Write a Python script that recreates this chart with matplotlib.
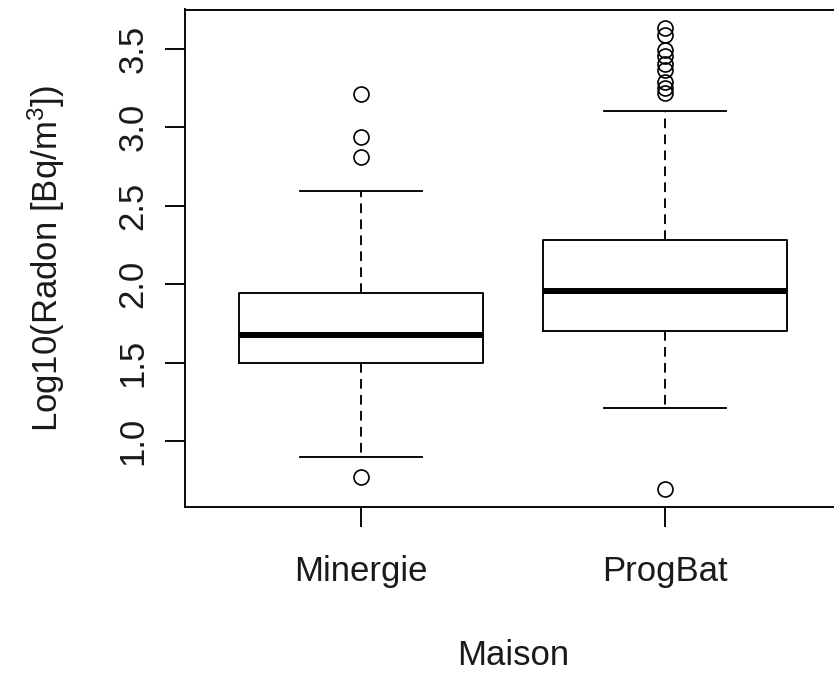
import matplotlib
matplotlib.use("Agg")
import matplotlib.pyplot as plt

plt.rcParams['font.family'] = ['Liberation Sans', 'DejaVu Sans']
plt.rcParams['mathtext.fontset'] = 'custom'
plt.rcParams['mathtext.rm'] = 'Liberation Sans'
plt.rcParams['mathtext.it'] = 'Liberation Sans'
plt.rcParams['lines.scale_dashes'] = False

categories = ['Minergie', 'ProgBat']
q1 = [1.496, 1.703]
medians = [1.678, 1.958]
q3 = [1.944, 2.280]
whis_lo = [0.90, 1.209]
whis_hi = [2.592, 3.104]
outliers = [
    [3.211, 2.940, 2.813, 0.772],
    [3.632, 3.586, 3.49, 3.452, 3.405, 3.362, 3.288, 3.252, 3.215, 0.698],
]
y_ticks = [1.0, 1.5, 2.0, 2.5, 3.0, 3.5]
y_tick_labels = ['1.0', '1.5', '2.0', '2.5', '3.0', '3.5']

W, H = 834, 676
fig = plt.figure(figsize=(W / 100, H / 100), dpi=100)
ax = fig.add_axes([184.7 / W, 169 / H, (841.3 - 184.7) / W, (666.5 - 169) / H])

stats = []
for i, name in enumerate(categories):
    stats.append(dict(label=name, q1=q1[i], med=medians[i], q3=q3[i],
                      whislo=whis_lo[i], whishi=whis_hi[i], fliers=outliers[i]))

lw = 1.35
txt = '#1a1a1a'
ax.bxp(stats, positions=[1, 2], widths=0.8, showfliers=True,
       boxprops=dict(color='black', linewidth=lw),
       whiskerprops=dict(color='black', linewidth=lw, linestyle=(0, (7, 4.5))),
       capprops=dict(color='black', linewidth=lw),
       capwidths=0.4,
       medianprops=dict(color='black', linewidth=4.3, solid_capstyle='butt'),
       flierprops=dict(marker='o', markerfacecolor='none', markeredgecolor='black',
                       markersize=10.8, markeredgewidth=1.2, linestyle='none'))

allvals = [v for o in outliers for v in o] + whis_lo + whis_hi
lo, hi = min(allvals), max(allvals)
pad = 0.04 * (hi - lo)
ax.set_ylim(lo - pad, hi + pad)
ax.set_xlim(0.42, 2.58)

ax.set_yticks(y_ticks)
ax.set_yticklabels(y_tick_labels, rotation=90, va='center')
ax.set_xticks([1, 2])
ax.set_xticklabels(categories)
ax.tick_params(axis='y', length=14.4, width=lw, pad=11, labelsize=25,
               color='black', labelcolor=txt)
ax.tick_params(axis='x', length=14.4, width=lw, pad=20, labelsize=25,
               color='black', labelcolor=txt)
for s in ax.spines.values():
    s.set_linewidth(lw)

ax.set_xlabel('Maison', fontsize=25, color=txt)
ax.xaxis.set_label_coords(0.5, -0.265)
ax.xaxis.label.set_va('top')
ax.set_ylabel(r'Log10(Radon [Bq/m$^{3}$])', fontsize=25, color=txt)
ax.yaxis.set_label_coords(-0.18, 0.5)

fig.savefig('out.png', dpi=100)
